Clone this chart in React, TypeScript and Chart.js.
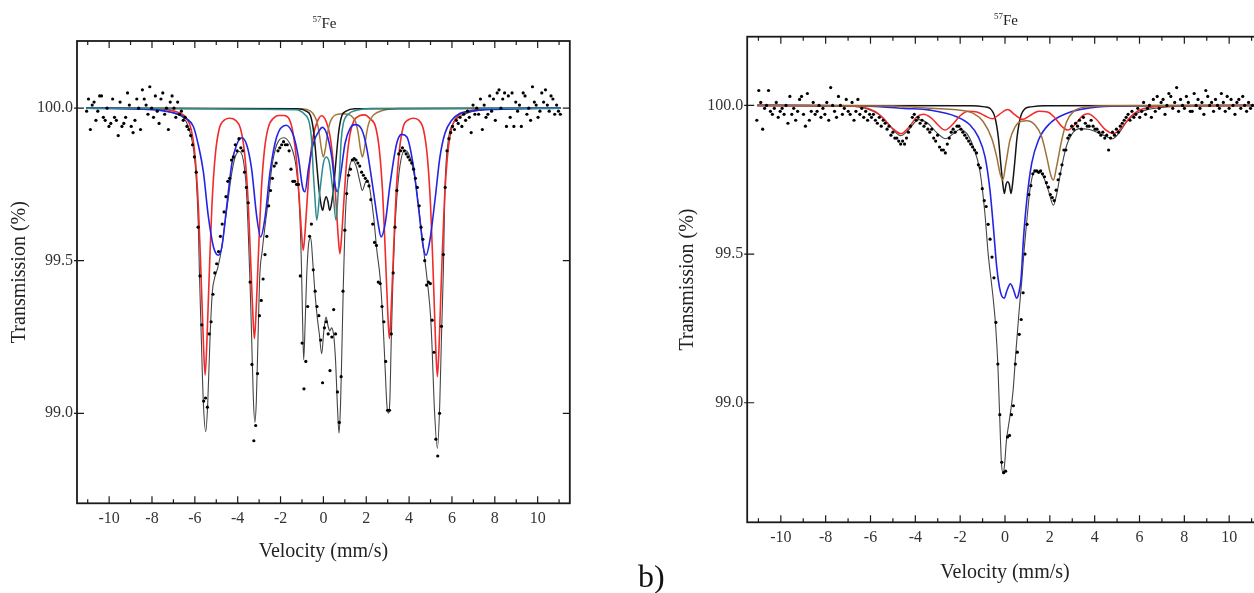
import React, { useEffect, useRef } from 'react';
import { Chart, registerables } from 'chart.js';

Chart.register(...registerables);

type P = [number, number];

const FONT = '"Liberation Serif", "DejaVu Serif", serif';

// ---------- shared axis ticks ----------
const X_LABELS = [-10, -8, -6, -4, -2, 0, 2, 4, 6, 8, 10];
const X_MINOR = [-11, -9, -7, -5, -3, -1, 1, 3, 5, 7, 9, 11];
const Y_TICKS = [99.0, 99.5, 100.0];

// ---------- panel a (left) ----------
const A_V_START = -11.05;
const A_V_STEP = 0.0867;
const A_COUNTS: number[] = [
  99.99, 100.03, 99.93, 100.01, 100.02, 99.96, 99.99, 100.04, 100.04, 99.97,
  99.96, 100.0, 99.94, 99.95, 100.03, 99.97, 99.96, 99.91, 100.02, 99.94,
  99.95, 99.97, 100.05, 100.01, 99.94, 99.92, 99.96, 100.03, 100.0, 99.93,
  100.06, 100.03, 100.01, 99.98, 100.07, 100.0, 99.97, 100.04, 99.99, 99.95,
  100.03, 100.05, 99.98, 100.0, 99.93, 100.02,
  100.04, 100.0, 99.97, 100.02, 99.98, 99.99, 99.96, 99.97, 99.94, 99.93,
  99.91, 99.88, 99.84, 99.79, 99.61, 99.45, 99.29, 99.04, 99.05, 99.02,
  99.26, 99.3, 99.39, 99.46, 99.49, 99.53, 99.58, 99.62, 99.66, 99.71,
  99.76, 99.77, 99.83, 99.84, 99.88, 99.86, 99.9, 99.87, 99.86, 99.79,
  99.74, 99.69, 99.43, 99.16, 98.91, 98.96, 99.13, 99.32, 99.37, 99.44,
  99.52, 99.58, 99.68, 99.73, 99.77, 99.81, 99.82, 99.86, 99.87, 99.88,
  99.89, 99.88, 99.88, 99.86, 99.8, 99.76, 99.76, 99.75, 99.75, 99.45,
  99.23, 99.08, 99.17, 99.35, 99.58, 99.62, 99.47, 99.4, 99.35, 99.32,
  99.24, 99.1, 99.28, 99.3, 99.26, 99.14, 99.25, 99.34, 99.26, 99.07,
  98.97, 99.12, 99.4, 99.6, 99.72, 99.78, 99.8, 99.83, 99.835, 99.83,
  99.82, 99.81, 99.79, 99.78, 99.77, 99.76, 99.745, 99.7, 99.62, 99.56,
  99.55, 99.43, 99.425, 99.35, 99.3, 99.17, 99.01, 99.01, 99.26, 99.46,
  99.61, 99.73, 99.85, 99.86, 99.87, 99.86, 99.85, 99.84, 99.83, 99.82,
  99.8, 99.77, 99.74, 99.68, 99.61, 99.57, 99.5, 99.42, 99.43, 99.425,
  99.305, 99.2, 98.915, 98.86, 99.0, 99.285, 99.52, 99.74, 99.86, 99.9,
  99.92, 99.94, 99.93, 99.96, 99.95, 99.97, 99.94, 99.98, 99.96, 99.99,
  99.97, 99.92, 100.01, 99.98,
  100.0, 99.98, 100.03, 99.93, 100.01, 99.97, 99.98, 100.04, 99.99, 100.03,
  99.96, 100.05, 100.06, 100.0, 100.03, 100.05, 99.94, 100.04, 99.97, 100.05,
  99.94, 100.02, 99.99, 100.01, 99.94, 100.05, 100.04, 99.98, 100.0, 99.96,
  100.07, 100.02, 100.01, 99.97, 99.99, 100.05, 100.02, 100.06, 100.01, 99.99,
  100.04, 100.03, 99.98, 100.01, 99.99, 99.98,
];

const A_TOTAL: P[] = [
  [-11.07, 100.0], [-8.0, 99.998], [-7.3, 99.99], [-6.9, 99.982], [-6.6, 99.972], [-6.4, 99.955],
  [-6.2, 99.915], [-6.05, 99.86], [-5.94, 99.775], [-5.84, 99.62], [-5.79, 99.47], [-5.7, 99.25],
  [-5.6, 99.03], [-5.49, 98.94], [-5.4, 99.03], [-5.29, 99.25], [-5.18, 99.4], [-5.07, 99.445],
  [-4.92, 99.48], [-4.75, 99.54], [-4.59, 99.625], [-4.43, 99.71], [-4.28, 99.786], [-4.12, 99.84],
  [-3.92, 99.858], [-3.74, 99.83], [-3.6, 99.74], [-3.5, 99.58], [-3.42, 99.42], [-3.35, 99.25],
  [-3.27, 99.05], [-3.2, 98.97], [-3.13, 99.04], [-3.05, 99.25], [-2.97, 99.45], [-2.86, 99.53],
  [-2.73, 99.61], [-2.57, 99.7], [-2.41, 99.805], [-2.18, 99.88], [-1.85, 99.903], [-1.5, 99.873],
  [-1.28, 99.81], [-1.12, 99.68], [-1.03, 99.5], [-0.97, 99.3], [-0.92, 99.175], [-0.85, 99.3],
  [-0.78, 99.45], [-0.68, 99.56], [-0.59, 99.575], [-0.5, 99.5], [-0.4, 99.4], [-0.28, 99.31],
  [-0.19, 99.26], [-0.08, 99.195], [0.02, 99.27], [0.12, 99.315], [0.22, 99.285], [0.3, 99.27],
  [0.38, 99.28], [0.48, 99.255], [0.57, 99.17], [0.65, 99.03], [0.73, 98.935], [0.8, 99.03],
  [0.86, 99.2], [0.93, 99.42], [1.01, 99.62], [1.09, 99.73], [1.2, 99.8], [1.36, 99.83],
  [1.55, 99.805], [1.7, 99.76], [1.82, 99.73], [1.95, 99.755], [2.07, 99.765], [2.2, 99.72],
  [2.35, 99.64], [2.5, 99.53], [2.64, 99.45], [2.78, 99.3], [2.88, 99.15], [2.96, 99.03],
  [3.03, 99.0], [3.1, 99.04], [3.17, 99.25], [3.25, 99.45], [3.32, 99.58], [3.42, 99.7],
  [3.57, 99.81], [3.8, 99.862], [3.98, 99.85], [4.2, 99.797], [4.35, 99.73], [4.5, 99.645],
  [4.66, 99.545], [4.79, 99.47], [4.9, 99.4], [5.0, 99.32], [5.07, 99.22], [5.17, 99.03],
  [5.32, 98.885], [5.43, 99.03], [5.51, 99.25], [5.6, 99.47], [5.67, 99.73], [5.83, 99.895],
  [6.06, 99.95], [6.5, 99.977], [6.9, 99.988], [7.5, 99.995], [8.5, 99.998], [11.07, 100.0],
];

const A_RED: P[] = [
  [-11.07, 100.0], [-8.0, 99.998], [-7.3, 99.995], [-6.72, 99.984], [-6.42, 99.97], [-6.17, 99.93],
  [-5.99, 99.843], [-5.84, 99.685], [-5.74, 99.51], [-5.67, 99.37], [-5.6, 99.23], [-5.52, 99.125],
  [-5.44, 99.23], [-5.37, 99.37], [-5.3, 99.51], [-5.2, 99.685], [-5.05, 99.843], [-4.87, 99.93],
  [-4.6, 99.962], [-4.37, 99.967], [-4.1, 99.96], [-3.87, 99.933], [-3.69, 99.86], [-3.54, 99.728],
  [-3.44, 99.577], [-3.37, 99.456], [-3.3, 99.336], [-3.22, 99.245], [-3.14, 99.336], [-3.07, 99.456],
  [-3.0, 99.577], [-2.9, 99.728], [-2.75, 99.864], [-2.57, 99.937], [-2.3, 99.969], [-2.08, 99.976],
  [-1.85, 99.976], [-1.59, 99.963], [-1.41, 99.916], [-1.26, 99.832], [-1.16, 99.739], [-1.09, 99.664],
  [-1.02, 99.59], [-0.94, 99.534], [-0.86, 99.59], [-0.79, 99.664], [-0.72, 99.739], [-0.62, 99.832],
  [-0.47, 99.91], [-0.29, 99.955], [-0.085, 99.975], [0.12, 99.958], [0.3, 99.912], [0.45, 99.828],
  [0.55, 99.733], [0.62, 99.657], [0.69, 99.58], [0.77, 99.523], [0.85, 99.58], [0.92, 99.657],
  [0.99, 99.733], [1.09, 99.828], [1.24, 99.914], [1.42, 99.958], [1.68, 99.975], [1.93, 99.978],
  [2.18, 99.965], [2.43, 99.94], [2.61, 99.864], [2.76, 99.728], [2.86, 99.577], [2.93, 99.456],
  [3.0, 99.336], [3.08, 99.245], [3.16, 99.336], [3.23, 99.456], [3.3, 99.577], [3.4, 99.728],
  [3.55, 99.864], [3.73, 99.94], [3.98, 99.962], [4.2, 99.967], [4.42, 99.962], [4.67, 99.93],
  [4.85, 99.842], [5.0, 99.683], [5.1, 99.507], [5.17, 99.366], [5.24, 99.222], [5.32, 99.12],
  [5.4, 99.222], [5.47, 99.366], [5.54, 99.507], [5.64, 99.683], [5.79, 99.842], [5.97, 99.93],
  [6.22, 99.97], [6.52, 99.984], [7.12, 99.995], [8.0, 99.998], [11.07, 100.0],
];

const A_BLUE: P[] = [
  [-11.07, 100.0], [-8.0, 99.995], [-7.4, 99.99], [-6.7, 99.978], [-6.38, 99.965], [-6.07, 99.94],
  [-5.84, 99.88], [-5.6, 99.79], [-5.37, 99.645], [-5.13, 99.545], [-4.9, 99.518], [-4.74, 99.545],
  [-4.51, 99.68], [-4.27, 99.82], [-4.05, 99.88], [-3.81, 99.903], [-3.58, 99.88], [-3.35, 99.8],
  [-3.11, 99.644], [-2.93, 99.578], [-2.72, 99.644], [-2.49, 99.79], [-2.18, 99.906], [-1.74, 99.944],
  [-1.4, 99.91], [-1.17, 99.84], [-0.97, 99.74], [-0.86, 99.726], [-0.7, 99.8], [-0.47, 99.884],
  [-0.16, 99.93], [-0.05, 99.937], [0.15, 99.917], [0.39, 99.84], [0.54, 99.75], [0.65, 99.726],
  [0.81, 99.786], [1.01, 99.884], [1.24, 99.933], [1.47, 99.946], [1.79, 99.93], [2.02, 99.87],
  [2.33, 99.73], [2.56, 99.62], [2.69, 99.578], [2.88, 99.62], [3.11, 99.75], [3.42, 99.884],
  [3.65, 99.914], [3.89, 99.906], [4.2, 99.81], [4.43, 99.68], [4.66, 99.545], [4.79, 99.518],
  [4.97, 99.567], [5.21, 99.7], [5.44, 99.84], [5.67, 99.917], [5.99, 99.96], [6.38, 99.983],
  [6.84, 99.99], [8.0, 99.996], [11.07, 100.0],
];

const A_TEAL: P[] = [
  [-11.07, 100.0], [-1.3, 99.995], [-0.88, 99.98], [-0.65, 99.95], [-0.55, 99.895], [-0.47, 99.786],
  [-0.39, 99.7], [-0.31, 99.633], [-0.16, 99.73], [0.0, 99.82], [0.14, 99.84], [0.28, 99.82],
  [0.44, 99.73], [0.59, 99.633], [0.67, 99.7], [0.75, 99.786], [0.83, 99.895], [0.93, 99.95],
  [1.16, 99.98], [1.55, 99.993], [2.2, 99.999], [11.07, 100.0],
];

const A_BROWN: P[] = [
  [-11.07, 100.0], [-1.0, 99.998], [-0.6, 99.99], [-0.42, 99.975], [-0.3, 99.955], [-0.2, 99.92],
  [-0.1, 99.87], [0.0, 99.84], [0.1, 99.87], [0.2, 99.92], [0.32, 99.955], [0.5, 99.975],
  [0.9, 99.982], [1.3, 99.975], [1.5, 99.955], [1.62, 99.92], [1.72, 99.87], [1.82, 99.84],
  [1.92, 99.87], [2.02, 99.92], [2.14, 99.955], [2.35, 99.978], [2.8, 99.993], [3.5, 99.999],
  [11.07, 100.0],
];

const A_BLACK: P[] = [
  [-11.07, 100.0], [-1.2, 99.998], [-0.8, 99.99], [-0.6, 99.975], [-0.45, 99.92], [-0.33, 99.83],
  [-0.2, 99.73], [-0.1, 99.68], [-0.03, 99.665], [0.05, 99.695], [0.13, 99.71], [0.21, 99.695],
  [0.29, 99.665], [0.36, 99.68], [0.46, 99.73], [0.59, 99.83], [0.71, 99.92], [0.86, 99.975],
  [1.06, 99.99], [1.46, 99.998], [11.07, 100.0],
];

// ---------- panel b (right) ----------
const B_V_START = -11.07;
const B_V_STEP = 0.0867;
const B_COUNTS: number[] = [
  99.95, 100.05, 100.01, 99.92, 99.99, 100.0, 100.05, 99.98, 99.97, 99.99,
  100.01, 99.96, 99.98, 99.99, 99.97, 100.0, 99.94, 100.03, 99.97, 99.99,
  99.95, 99.98, 100.02, 100.03, 99.97, 99.93, 100.04, 99.95, 99.98, 100.01,
  99.97, 99.98, 100.0, 99.96, 99.99, 99.97, 100.01, 99.95, 100.06, 100.0,
  99.98, 99.96, 100.03, 100.0, 99.97, 99.99, 100.02,
  99.98, 99.97, 100.01, 99.95, 99.98, 100.02, 99.97, 99.99, 99.96, 99.98,
  99.95, 99.97,
  99.96, 99.97, 99.95, 99.94, 99.96, 99.93, 99.95, 99.94, 99.92, 99.93,
  99.9, 99.91, 99.89, 99.89, 99.88, 99.87, 99.88, 99.87, 99.89, 99.91,
  99.93, 99.96, 99.97, 99.95, 99.96, 99.94, 99.95, 99.93, 99.94, 99.92,
  99.91, 99.92, 99.89, 99.88, 99.9, 99.86, 99.85, 99.85, 99.84, 99.87,
  99.89, 99.91, 99.92, 99.91, 99.93, 99.93, 99.92, 99.91, 99.9, 99.89,
  99.88, 99.87, 99.86, 99.85, 99.84, 99.8, 99.79, 99.72, 99.68, 99.66,
  99.6, 99.55, 99.49, 99.42, 99.27, 99.13, 98.96, 98.8, 98.765, 98.77,
  98.885, 98.89, 98.96, 98.99, 99.13, 99.17, 99.23, 99.28, 99.37, 99.5,
  99.6, 99.7, 99.73, 99.77, 99.78, 99.78, 99.775, 99.78, 99.77, 99.76,
  99.74, 99.725, 99.7, 99.69, 99.68, 99.715, 99.75, 99.77, 99.8, 99.85,
  99.85, 99.89, 99.9, 99.93, 99.92, 99.94, 99.93, 99.95, 99.92, 99.96,
  99.94, 99.93, 99.93, 99.95, 99.93, 99.92, 99.92, 99.91, 99.9, 99.91,
  99.89, 99.9, 99.85, 99.89, 99.91, 99.9, 99.92, 99.91, 99.93, 99.94,
  99.95, 99.96, 99.97, 99.95, 99.98, 99.96, 99.97, 99.99, 99.96,
  99.98, 100.01, 99.97, 99.99, 100.0, 99.96, 100.02, 99.98, 100.03, 99.99,
  100.01, 100.02, 99.97, 100.0, 100.04, 100.03, 99.99, 100.01, 100.06, 99.98,
  100.02, 100.0, 99.99, 100.03, 100.01, 99.98, 99.98, 100.04, 100.0, 100.02,
  99.99, 100.01, 99.97, 100.05, 100.03, 100.0, 100.01, 99.98, 100.02, 100.0,
  99.99, 100.04, 100.01, 99.98, 100.03, 99.99, 100.02, 100.0, 99.97, 100.01,
  100.02, 99.99, 100.03, 100.0, 99.98, 100.01, 99.99, 100.0,
];

const B_TOTAL: P[] = [
  [-11.05, 100.0], [-7.0, 99.997], [-6.2, 99.99], [-5.6, 99.968], [-5.1, 99.928], [-4.65, 99.898],
  [-4.3, 99.918], [-3.85, 99.952], [-3.45, 99.94], [-3.0, 99.905], [-2.65, 99.888], [-2.3, 99.905],
  [-2.0, 99.92], [-1.7, 99.905], [-1.41, 99.86], [-1.12, 99.78], [-0.9, 99.64], [-0.75, 99.5],
  [-0.6, 99.4], [-0.5, 99.33], [-0.41, 99.25], [-0.32, 99.13], [-0.24, 98.96], [-0.16, 98.8],
  [-0.08, 98.762], [-0.01, 98.8], [0.06, 98.87], [0.15, 98.92], [0.24, 98.965], [0.36, 99.04],
  [0.48, 99.166], [0.62, 99.3], [0.75, 99.412], [0.86, 99.52], [0.97, 99.61], [1.12, 99.72],
  [1.3, 99.775], [1.5, 99.778], [1.7, 99.762], [1.93, 99.715], [2.16, 99.664], [2.3, 99.7],
  [2.53, 99.794], [2.75, 99.865], [3.05, 99.91], [3.35, 99.922], [3.7, 99.92], [3.94, 99.915],
  [4.39, 99.9], [4.8, 99.888], [5.06, 99.905], [5.43, 99.945], [5.8, 99.97], [6.3, 99.985],
  [7.0, 99.993], [8.0, 99.998], [11.3, 100.0],
];

const B_RED: P[] = [
  [-11.05, 100.0], [-7.5, 99.999], [-6.4, 99.995], [-5.8, 99.98], [-5.4, 99.955], [-5.05, 99.925],
  [-4.63, 99.905], [-4.25, 99.93], [-3.95, 99.96], [-3.64, 99.97], [-3.3, 99.958], [-3.0, 99.935],
  [-2.68, 99.917], [-2.35, 99.935], [-2.0, 99.965], [-1.65, 99.98], [-1.25, 99.978], [-0.9, 99.965],
  [-0.55, 99.955], [-0.25, 99.97], [0.12, 99.986], [0.45, 99.968], [0.78, 99.953], [1.1, 99.965],
  [1.5, 99.98], [1.9, 99.978], [2.2, 99.96], [2.5, 99.932], [2.8, 99.917], [3.12, 99.935],
  [3.45, 99.965], [3.7, 99.972], [4.05, 99.955], [4.45, 99.92], [4.84, 99.905], [5.2, 99.925],
  [5.58, 99.96], [5.95, 99.982], [6.5, 99.994], [7.5, 99.999], [11.3, 100.0],
];

const B_BLUE: P[] = [
  [-11.05, 100.0], [-7.0, 99.999], [-5.58, 99.996], [-4.5, 99.99], [-3.35, 99.984], [-2.16, 99.962],
  [-1.56, 99.934], [-1.19, 99.894], [-0.89, 99.827], [-0.67, 99.715], [-0.52, 99.592], [-0.37, 99.457],
  [-0.25, 99.39], [-0.15, 99.36], [-0.04, 99.352], [0.1, 99.38], [0.24, 99.4], [0.38, 99.38],
  [0.52, 99.352], [0.62, 99.37], [0.72, 99.42], [0.82, 99.547], [0.97, 99.68], [1.19, 99.805],
  [1.49, 99.883], [2.01, 99.94], [2.75, 99.973], [3.64, 99.99], [4.83, 99.997], [7.0, 99.999],
  [11.3, 100.0],
];

const B_BROWN: P[] = [
  [-11.05, 100.0], [-5.0, 99.998], [-3.3, 99.99], [-2.16, 99.985], [-1.41, 99.973], [-0.97, 99.945],
  [-0.59, 99.889], [-0.37, 99.827], [-0.22, 99.771], [-0.1, 99.749], [0.04, 99.805], [0.22, 99.883],
  [0.45, 99.928], [0.67, 99.945], [0.97, 99.948], [1.34, 99.934], [1.64, 99.894], [1.86, 99.827],
  [2.04, 99.766], [2.16, 99.749], [2.3, 99.794], [2.53, 99.883], [2.75, 99.945], [3.05, 99.979],
  [3.64, 99.995], [5.0, 99.999], [11.3, 100.0],
];

const B_BLACK: P[] = [
  [-11.05, 100.0], [-1.5, 99.999], [-0.9, 99.995], [-0.67, 99.99], [-0.45, 99.96], [-0.3, 99.894],
  [-0.19, 99.805], [-0.1, 99.738], [-0.03, 99.704], [0.05, 99.735], [0.12, 99.743], [0.19, 99.735],
  [0.27, 99.704], [0.34, 99.738], [0.43, 99.805], [0.54, 99.894], [0.69, 99.96], [0.91, 99.99],
  [1.15, 99.995], [1.75, 99.999], [11.3, 100.0],
];

// ---------- chart helpers ----------
function lineDs(label: string, pts: P[], color: string, width: number) {
  return {
    type: 'line' as const,
    label,
    data: pts.map(([x, y]) => ({ x, y })),
    borderColor: color,
    borderWidth: width,
    pointRadius: 0,
    fill: false,
    cubicInterpolationMode: 'monotone' as const,
  };
}

function dotsDs(values: number[], start: number, step: number) {
  return {
    type: 'scatter' as const,
    label: 'data',
    data: values.map((y, i) => ({ x: start + i * step, y })),
    pointRadius: 1.6,
    pointBackgroundColor: '#000',
    pointBorderWidth: 0,
    showLine: false,
  };
}

const framePlugin = {
  id: 'frameTicks',
  afterDatasetsDraw(chart: any) {
    const { ctx, chartArea: a, scales } = chart;
    const sx = scales.x;
    const sy = scales.y;
    ctx.save();
    ctx.strokeStyle = '#1a1a1a';
    ctx.lineWidth = 1.2;
    ctx.beginPath();
    for (const v of X_LABELS) {
      const p = sx.getPixelForValue(v);
      ctx.moveTo(p, a.bottom); ctx.lineTo(p, a.bottom - 7);
      ctx.moveTo(p, a.top); ctx.lineTo(p, a.top + 7);
    }
    for (const v of X_MINOR) {
      const p = sx.getPixelForValue(v);
      ctx.moveTo(p, a.bottom); ctx.lineTo(p, a.bottom - 4);
      ctx.moveTo(p, a.top); ctx.lineTo(p, a.top + 4);
    }
    for (const v of Y_TICKS) {
      const p = sy.getPixelForValue(v);
      ctx.moveTo(a.left - 3, p); ctx.lineTo(a.left + 7, p);
      ctx.moveTo(a.right - 7, p); ctx.lineTo(a.right, p);
    }
    ctx.stroke();
    ctx.lineWidth = 1.8;
    ctx.strokeRect(a.left, a.top, a.right - a.left, a.bottom - a.top);
    ctx.restore();
  },
};

interface Geo {
  padTop: number;
  padRight: number;
  yWidth: number;
  xHeight: number;
  yMin: number;
  yMax: number;
  xTitlePad: number;
  yTitlePad: number;
}

function makeConfig(g: Geo, datasets: any[]): any {
  const tickFont = { family: FONT, size: 16 };
  const titleFont = { family: FONT, size: 20 };
  return {
    type: 'line',
    data: { datasets },
    options: {
      animation: false,
      responsive: false,
      maintainAspectRatio: false,
      events: [],
      layout: { padding: { left: 0, right: g.padRight, top: g.padTop, bottom: 0 } },
      plugins: { legend: { display: false }, tooltip: { enabled: false }, title: { display: false } },
      scales: {
        x: {
          type: 'linear',
          min: -11.5,
          max: 11.5,
          grid: { display: false, drawTicks: false },
          border: { display: false },
          ticks: { font: tickFont, color: '#333', padding: 6, autoSkip: false, maxRotation: 0, includeBounds: false },
          afterBuildTicks: (s: any) => { s.ticks = X_LABELS.map((v) => ({ value: v })); },
          afterFit: (s: any) => { s.height = g.xHeight; },
          title: { display: true, text: 'Velocity (mm/s)', font: titleFont, color: '#222', padding: { top: 0, bottom: g.xTitlePad } },
        },
        y: {
          type: 'linear',
          min: g.yMin,
          max: g.yMax,
          grid: { display: false, drawTicks: false },
          border: { display: false },
          ticks: { font: tickFont, color: '#333', padding: 4, callback: (v: any) => Number(v).toFixed(1) },
          afterBuildTicks: (s: any) => { s.ticks = Y_TICKS.map((v) => ({ value: v })); },
          afterFit: (s: any) => { s.width = g.yWidth; },
          title: { display: true, text: 'Transmission (%)', font: titleFont, color: '#222', padding: { top: g.yTitlePad, bottom: 0 } },
        },
      },
    },
    plugins: [framePlugin],
  };
}

function configA() {
  return makeConfig(
    { padTop: 41, padRight: 30.2, yWidth: 77, xHeight: 89.7, yMin: 98.705, yMax: 100.22, xTitlePad: 29, yTitlePad: 8 },
    [
      dotsDs(A_COUNTS, A_V_START, A_V_STEP),
      lineDs('teal doublet', A_TEAL, '#2b8c8c', 1.5),
      lineDs('blue sextet', A_BLUE, '#2424e6', 1.6),
      lineDs('black doublet', A_BLACK, '#151515', 1.5),
      lineDs('brown doublet', A_BROWN, '#a0783c', 1.5),
      lineDs('red sextet', A_RED, '#f22a2a', 1.6),
      lineDs('fit', A_TOTAL, '#444', 1.1),
    ]
  );
}

function configB() {
  return makeConfig(
    { padTop: 36.7, padRight: 27.2, yWidth: 87.2, xHeight: 70.7, yMin: 98.598, yMax: 100.231, xTitlePad: 8, yTitlePad: 16 },
    [
      dotsDs(B_COUNTS, B_V_START, B_V_STEP),
      lineDs('brown doublet', B_BROWN, '#a0703a', 1.5),
      lineDs('red sextet', B_RED, '#f22a2a', 1.5),
      lineDs('black doublet', B_BLACK, '#151515', 1.5),
      lineDs('blue doublet', B_BLUE, '#2424e6', 1.6),
      lineDs('fit', B_TOTAL, '#444', 1.1),
    ]
  );
}

function Panel(props: { left: number; width: number; height: number; build: () => any }) {
  const ref = useRef<HTMLCanvasElement>(null);
  useEffect(() => {
    if (!ref.current) return;
    const chart = new Chart(ref.current, props.build());
    return () => chart.destroy();
  }, []);
  return (
    <canvas
      ref={ref}
      width={props.width}
      height={props.height}
      style={{ position: 'absolute', left: props.left, top: 0, width: props.width, height: props.height }}
    />
  );
}

function FeTitle(props: { center: number; top: number }) {
  return (
    <div
      style={{
        position: 'absolute', left: props.center - 100, top: props.top, width: 200, textAlign: 'center',
        fontFamily: FONT, fontSize: 15, lineHeight: '16px', color: '#222',
      }}
    >
      <span style={{ fontSize: 9, position: 'relative', top: -6 }}>57</span>Fe
    </div>
  );
}

export default function App() {
  return (
    <div style={{ position: 'fixed', left: 0, top: 0, width: 1254, height: 593, overflow: 'hidden', background: '#fff' }}>
      <Panel left={0} width={600} height={593} build={configA} />
      <Panel left={660} width={630} height={593} build={configB} />
      <FeTitle center={324.5} top={15} />
      <FeTitle center={1006} top={12} />
      <div style={{ position: 'absolute', left: 638, top: 560, fontFamily: FONT, fontSize: 32, lineHeight: '32px', color: '#111' }}>b)</div>
    </div>
  );
}
